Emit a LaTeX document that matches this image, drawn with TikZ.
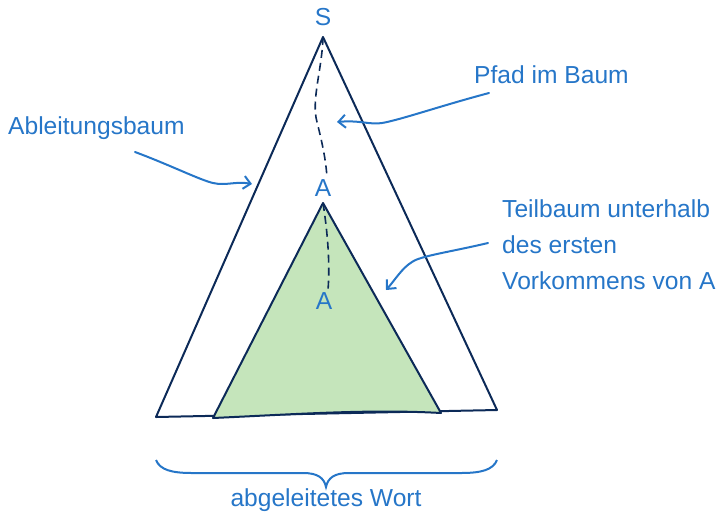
\documentclass[tikz,border=0pt]{standalone}
\usepackage{fontspec}
\setmainfont{Liberation Sans}
\usetikzlibrary{arrows.meta}
\definecolor{lblue}{RGB}{38,118,200}
\definecolor{navy}{RGB}{12,42,88}
\definecolor{lgreen}{RGB}{197,229,187}
\begin{document}
\begin{tikzpicture}[x=1pt,y=-1pt,
  lbl/.style={text=lblue, font=\fontsize{24.6}{36}\selectfont, inner sep=0pt},
  tri/.style={draw=navy, line width=2pt, line join=round},
  pathline/.style={draw=navy, line width=1.6pt, dash pattern=on 8pt off 5pt},
  pointer/.style={draw=lblue, line width=2pt, line cap=round, -{Straight Barb[length=7pt,width=13pt]}},
  bracestyle/.style={draw=lblue, line width=2pt}
]
\useasboundingbox (0,0) rectangle (719,512);
% triangle corners
\coordinate (S0) at (323,37);
\coordinate (BL) at (156,417);
\coordinate (BR) at (497,410);
\coordinate (A0) at (323,203);
\coordinate (GL) at (213,418);
\coordinate (GR) at (441,413);
% triangles
\draw[tri] (S0) -- (BL) -- (BR) -- cycle;
\draw[tri, fill=lgreen] (A0) -- (GL) .. controls (300,414) and (370,409) .. (GR) -- cycle;
% labels
\node[lbl] (S) at (323,17) {S};
\node[lbl] (A1) at (323,188) {A};
\node[lbl] (A2) at (324,301) {A};
\node[lbl, anchor=west] (abl) at (8,128) {Ableitungsbaum};
\node[lbl, anchor=west] (pfad) at (474,75) {Pfad im Baum};
\node[lbl, anchor=north west, align=left] (teil) at (502,199) {Teilbaum unterhalb\\des ersten\\Vorkommens von A};
\node[lbl, anchor=base] (wort) at (326,506) {abgeleitetes Wort};
% dashed paths
\coordinate (P1) at (327,178);
\coordinate (P2) at (328,290);
\draw[pathline] (S0) .. controls (322,70) and (311,100) .. (317,122) .. controls (322,142) and (326,160) .. (P1);
\draw[pathline] (A0) .. controls (328,235) and (330,265) .. (P2);
% pointers
\coordinate (ablS) at (135,152);
\coordinate (ablE) at (252,184);
\draw[pointer] (ablS) .. controls (170,165) and (200,180) .. (213,183) .. controls (226,186) and (236,181) .. (ablE);
\coordinate (pfS) at (489,93);
\coordinate (pfE) at (337,122);
\draw[pointer] (pfS) .. controls (440,106) and (400,120) .. (382,123) .. controls (370,125) and (360,120) .. (pfE);
\coordinate (tbS) at (488,243);
\coordinate (tbE) at (386,290);
\draw[pointer] (tbS) .. controls (450,252) and (420,256) .. (412,262) .. controls (402,268) and (395,280) .. (tbE);
% brace
\coordinate (brL) at (156,460);
\coordinate (brR) at (497,460);
\coordinate (brM) at (326,487);
\draw[bracestyle] (brL) .. controls (160,470) and (172,473) .. (192,473) -- (303,473)
  .. controls (318,473) and (324,478) .. (brM)
  .. controls (328,478) and (334,473) .. (349,473) -- (461,473)
  .. controls (481,473) and (493,470) .. (brR);
\end{tikzpicture}
\end{document}
